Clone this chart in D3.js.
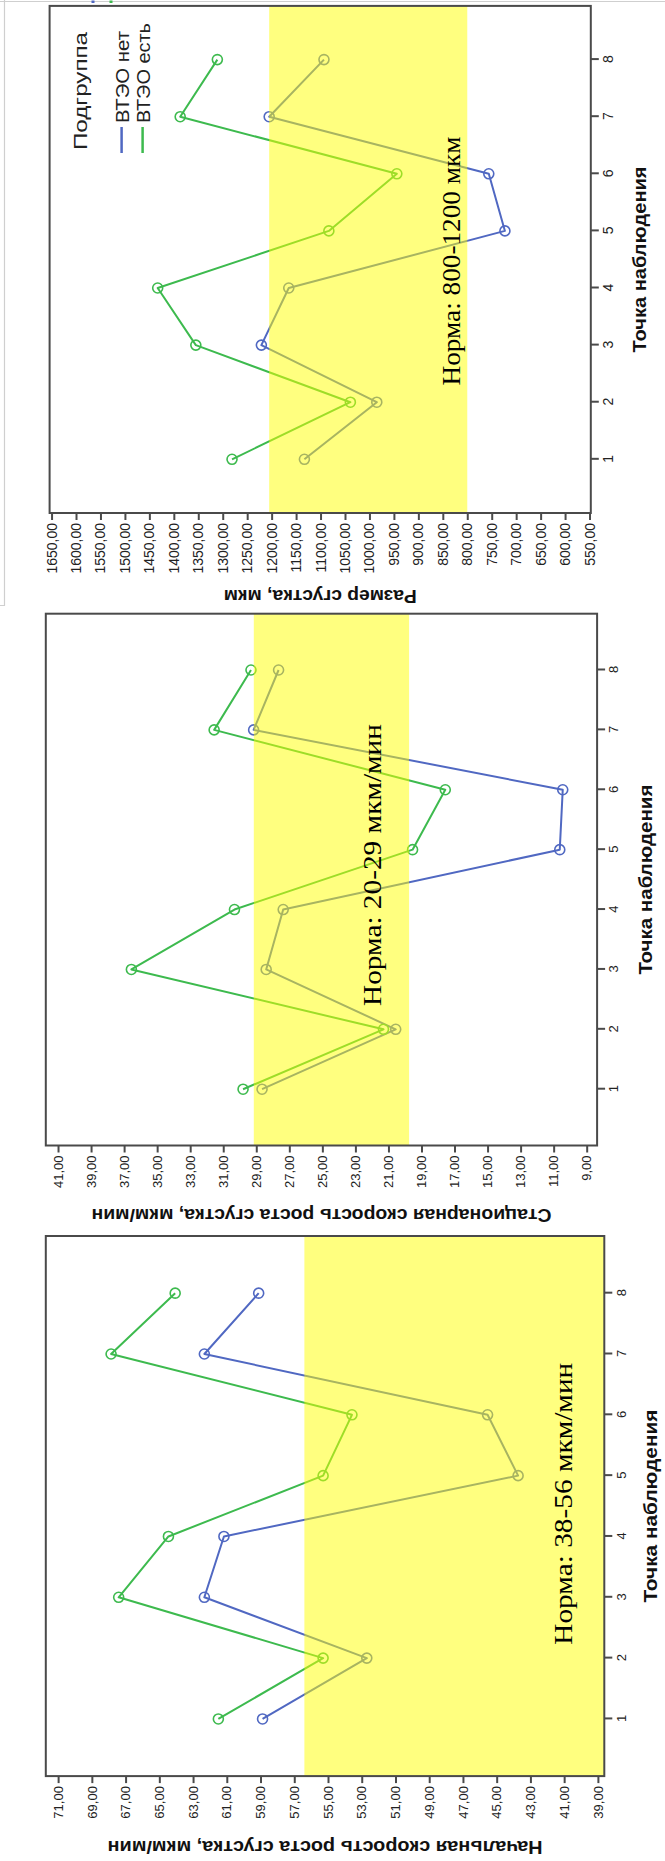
<!DOCTYPE html>
<html><head><meta charset="utf-8">
<script src="https://cdn.jsdelivr.net/npm/d3@7"></script>
<style>body{margin:0;background:#fff}svg{display:block}</style>
</head><body>
<svg id="c" width="665" height="1861"></svg>
<script>
// ---------- DATA ----------
const points = [1, 2, 3, 4, 5, 6, 7, 8];
const groups = ["ВТЭО нет", "ВТЭО есть"];
const legendTitle = "Подгруппа";
const xTitle = "Точка наблюдения";

// Panel 1: размер сгустка, мкм
const sizeNo  = [1133, 985, 1221, 1165, 723, 756, 1205, 1093];
const sizeYes = [1281, 1039, 1355, 1433, 1083, 944, 1387, 1311];
const sizeTicks = [550, 600, 650, 700, 750, 800, 850, 900, 950, 1000, 1050, 1100,
                   1150, 1200, 1250, 1300, 1350, 1400, 1450, 1500, 1550, 1600, 1650];
const sizeNorm = [800, 1205];
const sizeTitle = "Размер сгустка, мкм";
const sizeNormText = "Норма: 800-1200 мкм";

// Panel 2: стационарная скорость роста сгустка, мкм/мин
const statNo  = [28.65, 20.56, 28.4, 27.37, 10.63, 10.45, 29.16, 27.65];
const statYes = [29.8, 21.3, 36.56, 30.32, 19.54, 17.56, 31.55, 29.32];
const statTicks = [9, 11, 13, 15, 17, 19, 21, 23, 25, 27, 29, 31, 33, 35, 37, 39, 41];
const statNorm = [19.75, 29.15];
const statTitle = "Стационарная скорость роста сгустка, мкм/мин";
const statNormText = "Норма: 20-29 мкм/мин";

// Panel 3: начальная скорость роста сгустка, мкм/мин
const initNo  = [58.88, 52.7, 62.33, 61.17, 43.73, 45.54, 62.33, 59.11];
const initYes = [61.5, 55.29, 67.41, 64.46, 55.29, 53.58, 67.86, 64.06];
const initTicks = [39, 41, 43, 45, 47, 49, 51, 53, 55, 57, 59, 61, 63, 65, 67, 69, 71];
const initNorm = [38, 56.4];
const initTitle = "Начальная скорость роста сгустка, мкм/мин";
const initNormText = "Норма: 38-56 мкм/мин";

// ---------- STYLE / LAYOUT ----------
const colors = ["#5068c2", "#3dba4e"];
const SANS = "'Liberation Sans', Arial, sans-serif";
const SERIF = "'Liberation Serif', 'Times New Roman', serif";
const pointDomain = [0.06, 8.94];

const panels = [
  { no: sizeNo, yes: sizeYes, ticks: sizeTicks, norm: sizeNorm, title: sizeTitle, normText: sizeNormText,
    domain: [547.4, 1654], box: {l: 49.6, t: 5.9, r: 590.8, b: 513}, tickFont: 14,
    yTitleU: -77, yTitleLen: 193, xTitleV: 55, xTitleLen: 186,
    normU: 252, normV: 410, normLen: 249, legend: true },
  { no: statNo, yes: statYes, ticks: statTicks, norm: statNorm, title: statTitle, normText: statNormText,
    domain: [8.37, 41.74], box: {l: 45.8, t: 613.7, r: 597.1, b: 1145.5}, tickFont: 13,
    yTitleU: -63.3, yTitleLen: 460, xTitleV: 55, xTitleLen: 190,
    normU: 280.5, normV: 335, normLen: 282, legend: false },
  { no: initNo, yes: initYes, ticks: initTicks, norm: initNorm, title: initTitle, normText: initNormText,
    domain: [38.62, 71.73], box: {l: 45.8, t: 1236, r: 604.3, b: 1776.1}, tickFont: 13,
    yTitleU: -64.6, yTitleLen: 435, xTitleV: 53, xTitleLen: 193,
    normU: 272.4, normV: 526, normLen: 282, legend: false }
];

const fmt = d => d.toFixed(2).replace(".", ",");

const svg = d3.select("#c");
svg.append("rect").attr("width", 665).attr("height", 1861).attr("fill", "#fff");

// thin outer frame remnants of the source screenshot
svg.append("path").attr("d", "M0,1.5H665M4.5,0V605.5H0").attr("fill", "none")
  .attr("stroke", "#cfcfcf").attr("stroke-width", 1.2);
svg.append("rect").attr("x", 91.5).attr("y", 0.5).attr("width", 3).attr("height", 2.5).attr("fill", colors[0]);
svg.append("rect").attr("x", 109.5).attr("y", 0.5).attr("width", 3).attr("height", 2.5).attr("fill", colors[1]);

panels.forEach(p => {
  const W = p.box.b - p.box.t;   // length along the observation-point axis
  const H = p.box.r - p.box.l;   // length along the value axis
  const g = svg.append("g").attr("transform", `translate(${p.box.l},${p.box.b}) rotate(-90)`);

  const x = d3.scaleLinear().domain(pointDomain).range([0, W]);
  const y = d3.scaleLinear().domain(p.domain).range([H, 0]);
  const line = d3.line().x((d, i) => x(points[i])).y(d => y(d));

  [[p.no, colors[0]], [p.yes, colors[1]]].forEach(([vals, col]) => {
    g.append("path").datum(vals).attr("d", line).attr("fill", "none")
      .attr("stroke", col).attr("stroke-width", 2).attr("stroke-linejoin", "round");
    g.selectAll(null).data(vals).join("circle")
      .attr("cx", (d, i) => x(points[i])).attr("cy", d => y(d)).attr("r", 5)
      .attr("fill", "none").attr("stroke", col).attr("stroke-width", 1.6);
  });

  // norm band (translucent yellow drawn over the lines)
  const lo = Math.max(p.norm[0], p.domain[0]), hi = Math.min(p.norm[1], p.domain[1]);
  g.append("rect").attr("x", 0).attr("width", W).attr("y", y(hi)).attr("height", y(lo) - y(hi))
    .attr("fill", "#ffff00").attr("fill-opacity", 0.5);

  // frame
  g.append("rect").attr("width", W).attr("height", H).attr("fill", "none")
    .attr("stroke", "#4a4a4a").attr("stroke-width", 2);

  // axes
  const ya = g.append("g").call(d3.axisLeft(y).tickValues(p.ticks).tickSize(7).tickPadding(3).tickFormat(fmt));
  const xa = g.append("g").attr("transform", `translate(0,${H})`)
    .call(d3.axisBottom(x).tickValues(points).tickSize(8).tickPadding(4));
  [ya, xa].forEach(a => {
    a.select(".domain").remove();
    a.selectAll("line").attr("stroke", "#4a4a4a").attr("stroke-width", 2);
    a.selectAll("text").attr("font-family", SANS).attr("font-size", p.tickFont).attr("fill", "#222");
  });

  // axis titles
  g.append("text").attr("x", W / 2).attr("y", H + p.xTitleV).attr("text-anchor", "middle")
    .attr("font-family", SANS).attr("font-weight", "bold").attr("font-size", 18).attr("fill", "#111")
    .attr("textLength", p.xTitleLen).attr("lengthAdjust", "spacingAndGlyphs").text(xTitle);
  g.append("text").attr("transform", `translate(${p.yTitleU},${H / 2}) rotate(-90)`).attr("text-anchor", "middle")
    .attr("font-family", SANS).attr("font-weight", "bold").attr("font-size", 18).attr("fill", "#111")
    .attr("textLength", p.yTitleLen).attr("lengthAdjust", "spacingAndGlyphs").text(p.title);

  // norm annotation
  g.append("text").attr("x", p.normU).attr("y", p.normV).attr("text-anchor", "middle")
    .attr("font-family", SERIF).attr("font-size", 26).attr("fill", "#000")
    .attr("textLength", p.normLen).attr("lengthAdjust", "spacingAndGlyphs").text(p.normText);

  if (p.legend) {
    const lg = g.append("g");
    lg.append("text").attr("x", 363).attr("y", 37).attr("font-family", SANS).attr("font-size", 19)
      .attr("fill", "#222").attr("textLength", 118).attr("lengthAdjust", "spacingAndGlyphs").text(legendTitle);
    const rows = [{v: 79, len: 92}, {v: 100, len: 100}];
    groups.forEach((name, i) => {
      lg.append("line").attr("x1", 360).attr("x2", 386).attr("y1", rows[i].v - 7).attr("y2", rows[i].v - 7)
        .attr("stroke", colors[i]).attr("stroke-width", 2.5);
      lg.append("text").attr("x", 390).attr("y", rows[i].v).attr("font-family", SANS).attr("font-size", 19)
        .attr("fill", "#222").attr("textLength", rows[i].len).attr("lengthAdjust", "spacingAndGlyphs").text(name);
    });
  }
});
</script>
</body></html>
